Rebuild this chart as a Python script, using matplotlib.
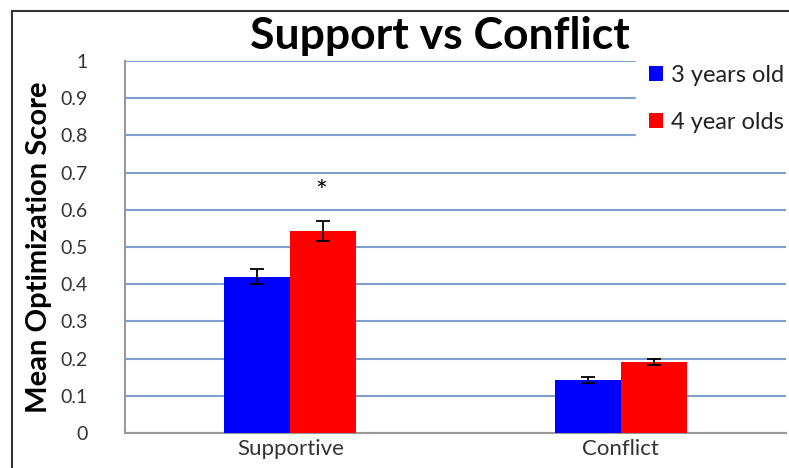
import matplotlib.pyplot as plt
import numpy as np
from matplotlib.patches import Rectangle

categories = ['Supportive', 'Conflict']
series_names = ['3 years old', '4 year olds']
age3_means = [0.42, 0.142]
age3_err = [0.02, 0.008]
age4_means = [0.543, 0.19]
age4_err = [0.026, 0.008]
yticks = [0, 0.1, 0.2, 0.3, 0.4, 0.5, 0.6, 0.7, 0.8, 0.9, 1]
ytick_labels = ['0', '0.1', '0.2', '0.3', '0.4', '0.5', '0.6', '0.7', '0.8', '0.9', '1']

plt.rcParams['font.family'] = ['Lato', 'DejaVu Sans']

fig = plt.figure(figsize=(7.89, 4.68), dpi=100)
ax = fig.add_axes([125 / 789, 35 / 468, 661 / 789, 372 / 468])

x = np.arange(len(categories))
w = 0.2
err_kw = dict(ecolor='black', capsize=5, elinewidth=1.3, capthick=1.3)
ax.bar(x - w / 2, age3_means, w, yerr=age3_err, color='#0000ff', label=series_names[0],
       error_kw=err_kw, zorder=3)
ax.bar(x + w / 2, age4_means, w, yerr=age4_err, color='#ff0000', label=series_names[1],
       error_kw=err_kw, zorder=3)

# significance marker
ax.text(x[0] + w / 2 - 0.005, 0.645, '*', ha='center', va='center', fontsize=20)

ax.set_xlim(-0.5, 1.5)
ax.set_ylim(0, 1)
ax.set_yticks(yticks)
ax.set_yticklabels(ytick_labels, fontsize=14, color='#333333')
ax.set_xticks(x)
ax.set_xticklabels(categories, fontsize=16, color='#333333')
ax.tick_params(length=0, pad=4)
ax.tick_params(axis='y', pad=27)
ax.yaxis.grid(True, color='#7f9fcf', linewidth=1.5, zorder=0)
ax.set_axisbelow(True)
for side in ['top', 'right']:
    ax.spines[side].set_visible(False)
for side in ['left', 'bottom']:
    ax.spines[side].set_color('#999999')
    ax.spines[side].set_linewidth(1.5)

ax.set_ylabel('Mean Optimization Score', fontsize=21, fontweight='bold', labelpad=6)
fig.text(440 / 789, 1 - 36 / 468, 'Support vs Conflict', ha='center', va='center',
         fontsize=32, fontweight='bold')

leg = ax.legend(loc='upper left', bbox_to_anchor=(636 / 789, 1 - 52 / 468),
                bbox_transform=fig.transFigure, frameon=True, fontsize=17,
                handlelength=0.6, handleheight=0.6, handletextpad=0.35,
                labelspacing=1.1, borderpad=0.55, borderaxespad=0)
leg.get_frame().set_edgecolor('white')
leg.get_frame().set_facecolor('white')
leg.get_frame().set_alpha(1)
leg.get_frame().set_boxstyle('square', pad=0)
for t in leg.get_texts():
    t.set_color('#222222')

fig.patches.append(Rectangle((12 / 789, -0.05), 1.1, 1 - 11 / 468 + 0.05,
                             transform=fig.transFigure, fill=False,
                             edgecolor='#333333', linewidth=1.5))

fig.savefig('out.png', dpi=100)
